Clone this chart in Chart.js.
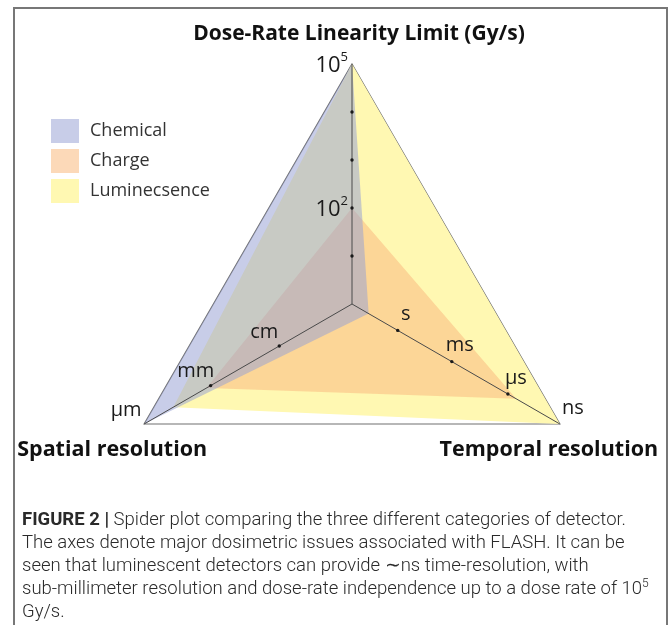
<!DOCTYPE html>
<html>
<head>
<meta charset="utf-8">
<script src="https://cdn.jsdelivr.net/npm/chart.js@4.4.1/dist/chart.umd.min.js"></script>
<style>
  html, body { margin: 0; padding: 0; background: #fff; }
  #wrap { position: relative; width: 669px; height: 625px; overflow: hidden; }
  #frame { position: absolute; left: 13px; top: 7px; width: 651px; height: 700px; border: 2px solid #777; }
  #myChart { position: absolute; left: 0; top: 0; }
  #caption {
    position: absolute; left: 22px; top: 508px; width: 640px;
    font-family: Roboto, "Liberation Sans", sans-serif; font-weight: 300;
    font-size: 18.5px; line-height: 23px; color: #2a2a2a; white-space: nowrap;
  }
  #caption b { font-weight: 700; }
  #caption sup { font-size: 12px; line-height: 0; }
</style>
</head>
<body>
<div id="wrap">
  <div id="frame"></div>
  <canvas id="myChart" width="669" height="625"></canvas>
  <div id="caption">
    <b>FIGURE 2 |</b> Spider plot comparing the three different categories of detector.<br>
    The axes denote major dosimetric issues associated with FLASH. It can be<br>
    seen that luminescent detectors can provide ∼ns time-resolution, with<br>
    sub-millimeter resolution and dose-rate independence up to a dose rate of 10<sup>5</sup><br>
    Gy/s.
  </div>
</div>
<script>
// axes, clockwise from the top
const axisLabels = ['Dose-Rate Linearity Limit (Gy/s)', 'Temporal resolution', 'Spatial resolution'];
const seriesNames = ['Chemical', 'Charge', 'Luminecsence'];

// values on a 0-100 position scale along each axis
const chemical = [100, 8, 100];
const charge = [40, 79, 70];
const luminescence = [100, 100, 86];

// tick marks along each axis
const doseTicks = [20, 40, 60, 80, 100];
const doseTickLabels = ['', '2', '', '', '5']; // exponents of 10
const temporalTicks = [22, 48, 75, 100];
const temporalTickLabels = ['s', 'ms', 'µs', 'ns'];
const spatialTicks = [35, 68, 100];
const spatialTickLabels = ['cm', 'mm', 'µm'];

const fillColors = ['rgba(151,160,211,0.53)', 'rgba(249,188,130,0.57)', 'rgb(255,248,178)'];

const labelFont = '"Open Sans", "DejaVu Sans", sans-serif';

const spiderDecor = {
    id: 'spiderDecor',
    afterDraw(chart) {
        const ctx = chart.ctx;
        const scale = chart.scales.r;
        ctx.save();

        // axis lines from the centre
        ctx.strokeStyle = '#4a4a4a';
        ctx.lineWidth = 1;
        for (let i = 0; i < axisLabels.length; i++) {
            const end = scale.getPointPositionForValue(i, 100);
            ctx.beginPath();
            ctx.moveTo(scale.xCenter, scale.yCenter);
            ctx.lineTo(end.x, end.y);
            ctx.stroke();
        }

        ctx.fillStyle = '#1a1a1a';
        // tick dots + labels
        const axes = [
            { ticks: doseTicks, labels: doseTickLabels },
            { ticks: temporalTicks, labels: temporalTickLabels },
            { ticks: spatialTicks, labels: spatialTickLabels },
        ];
        axes.forEach((axis, i) => {
            axis.ticks.forEach((v, k) => {
                const p = scale.getPointPositionForValue(i, v);
                if (v < 100) {
                    ctx.beginPath();
                    ctx.arc(p.x, p.y, 1.7, 0, Math.PI * 2);
                    ctx.fill();
                }
                const txt = axis.labels[k];
                if (!txt) return;
                ctx.textBaseline = 'middle';
                if (i === 0) {
                    // 10 with a superscript
                    ctx.font = '13px ' + labelFont;
                    ctx.textAlign = 'right';
                    const supW = ctx.measureText(txt).width;
                    ctx.fillText(txt, p.x - 4, p.y - 7);
                    ctx.font = '22px ' + labelFont;
                    ctx.fillText('10', p.x - 4 - supW, p.y + 2);
                } else if (i === 1) {
                    ctx.font = '20px ' + labelFont;
                    ctx.textAlign = 'center';
                    const dx = v === 100 ? 13 : 8;
                    ctx.fillText(txt, p.x + dx, p.y - 16);
                } else {
                    ctx.font = '20px ' + labelFont;
                    ctx.textAlign = 'center';
                    const dx = v === 100 ? -18 : -15;
                    ctx.fillText(txt, p.x + dx, p.y - 14);
                }
            });
        });

        // axis titles
        ctx.textAlign = 'center';
        ctx.textBaseline = 'middle';
        ctx.fillStyle = '#111';
        ctx.font = 'bold 21px ' + labelFont;
        const top = scale.getPointPositionForValue(0, 100);
        ctx.fillText(axisLabels[0], top.x + 7, top.y - 30);
        ctx.font = 'bold 21.5px ' + labelFont;
        const right = scale.getPointPositionForValue(1, 100);
        ctx.fillText(axisLabels[1], right.x - 11, right.y + 26);
        const left = scale.getPointPositionForValue(2, 100);
        ctx.fillText(axisLabels[2], left.x - 32, left.y + 26);

        // legend
        ctx.font = '18px ' + labelFont;
        ctx.textAlign = 'left';
        chart.data.datasets.forEach((ds, i) => {
            ctx.fillStyle = ds.backgroundColor;
            ctx.fillRect(51, 119 + 30 * i, 28, 24);
            ctx.fillStyle = '#333';
            ctx.fillText(ds.label, 90, 131 + 30 * i);
        });
        ctx.restore();
    }
};

const ctx = document.getElementById('myChart').getContext('2d');
new Chart(ctx, {
    type: 'radar',
    data: {
        labels: axisLabels,
        datasets: [chemical, charge, luminescence].map((d, i) => ({
            label: seriesNames[i],
            data: d,
            fill: true,
            backgroundColor: fillColors[i],
            borderWidth: 0,
            pointRadius: 0,
        })),
    },
    options: {
        responsive: false,
        animation: false,
        layout: { padding: { left: 112, right: 77, top: 64, bottom: 80 } },
        plugins: {
            legend: { display: false },
            tooltip: { enabled: false },
        },
        scales: {
            r: {
                min: 0,
                max: 100,
                z: 1,
                ticks: { display: false, stepSize: 100 },
                grid: { color: '#707070', lineWidth: 1.2 },
                angleLines: { display: false },
                pointLabels: { display: false },
            },
        },
        elements: { line: { tension: 0 } },
    },
    plugins: [spiderDecor],
});
</script>
</body>
</html>
